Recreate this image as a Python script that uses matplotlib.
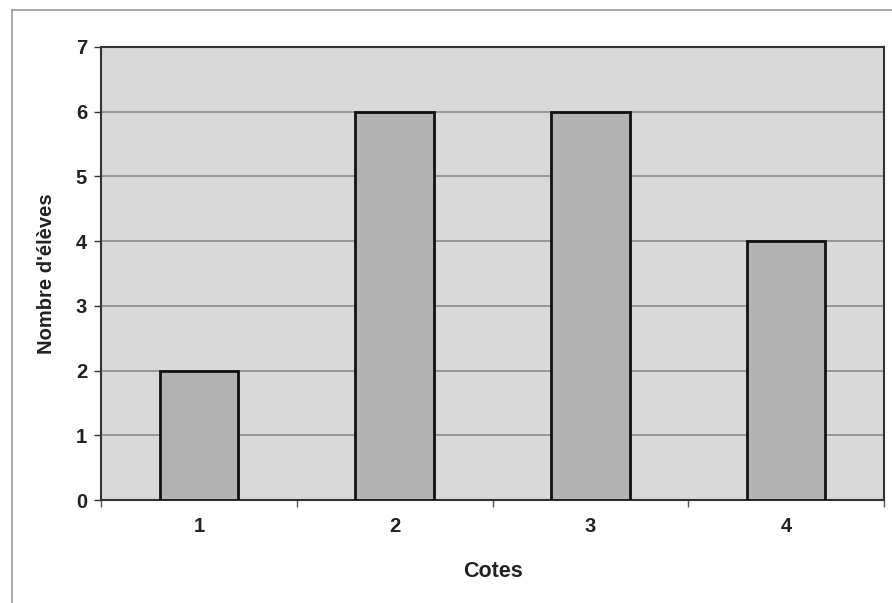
import matplotlib
matplotlib.use("Agg")
import matplotlib.pyplot as plt
from matplotlib.lines import Line2D

categories = ["1", "2", "3", "4"]
values = [2, 6, 6, 4]
yticks = [0, 1, 2, 3, 4, 5, 6, 7]

plt.rcParams['font.family'] = ['Liberation Sans', 'DejaVu Sans']

fig = plt.figure(figsize=(8.92, 6.03), dpi=100)
ax = fig.add_axes([101/892, 103/603, 783/892, 453/603])
ax.set_facecolor('#d9d9d9')

x = list(range(len(categories)))
ax.bar(x, values, width=0.4, color='#b3b3b3', edgecolor='#111111', linewidth=2, zorder=3)
ax.set_xlim(-0.5, len(categories) - 0.5)
ax.set_ylim(0, 7)
ax.set_yticks(yticks)
ax.set_yticklabels([str(v) for v in yticks], fontsize=14.5, fontweight='bold', color='#222222')
ax.set_xticks(x)
ax.set_xticklabels(categories, fontsize=14.5, fontweight='bold', color='#222222')
ax.tick_params(axis='x', length=0, pad=12)
ax.set_xticks([i - 0.5 for i in range(len(categories) + 1)], minor=True)
ax.tick_params(axis='x', which='minor', length=5, width=1, color='#555555', direction='out')
ax.tick_params(axis='y', length=5, width=1, color='#333333', pad=5)
ax.yaxis.grid(True, color='#8c8c8c', linewidth=1.2, zorder=1)
ax.set_axisbelow(True)
for s in ax.spines.values():
    s.set_color('#333333')
    s.set_linewidth(1.5)

ax.set_xlabel("Cotes", fontsize=15.5, fontweight='bold', labelpad=18, color='#222222')
ax.set_ylabel("Nombre d'élèves", fontsize=14.5, fontweight='bold', labelpad=14, color='#222222')

fig.add_artist(Line2D([12/892, 12/892], [0, 1 - 10/603], transform=fig.transFigure, color='#999999', linewidth=1.2))
fig.add_artist(Line2D([12/892, 1], [1 - 10/603, 1 - 10/603], transform=fig.transFigure, color='#999999', linewidth=1.2))

fig.savefig("out.png", dpi=100)
